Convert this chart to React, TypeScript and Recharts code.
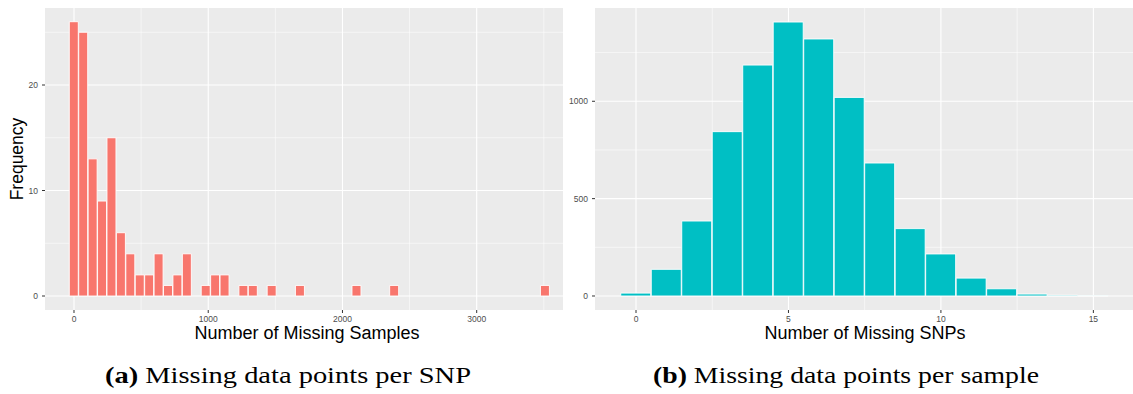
import React from 'react';
import { BarChart, Bar, XAxis, YAxis, CartesianGrid } from 'recharts';

// Panel (a): missing data points per SNP
const snpBinCenters = [
  0, 70.2, 140.4, 210.6, 280.8, 351, 421.2, 491.4, 561.6, 631.8, 702, 772.2, 842.4,
  912.6, 982.8, 1053, 1123.2, 1193.4, 1263.6, 1333.8, 1404, 1474.2, 1544.4, 1614.6,
  1684.8, 1755, 1825.2, 1895.4, 1965.6, 2035.8, 2106, 2176.2, 2246.4, 2316.6, 2386.8,
  2457, 2527.2, 2597.4, 2667.6, 2737.8, 2808, 2878.2, 2948.4, 3018.6, 3088.8, 3159,
  3229.2, 3299.4, 3369.6, 3439.8, 3510,
];
const snpCounts = [
  26, 25, 13, 9, 15, 6, 4, 2, 2, 4, 1, 2, 4, 0, 1, 2, 2, 0, 1, 1, 0, 1, 0, 0, 1,
  0, 0, 0, 0, 0, 1, 0, 0, 0, 1, 0, 0, 0, 0, 0, 0, 0, 0, 0, 0, 0, 0, 0, 0, 0, 1,
];
const snpXTicks = [0, 1000, 2000, 3000];
const snpXMinor = [500, 1500, 2500, 3500];
const snpYTicks = [0, 10, 20];
const snpYMinor = [5, 15, 25];

// Panel (b): missing data points per sample
const sampleBinCenters = [0, 1, 2, 3, 4, 5, 6, 7, 8, 9, 10, 11, 12, 13, 14, 15];
const sampleCounts = [15, 137, 385, 844, 1186, 1407, 1320, 1020, 683, 346, 216, 92, 37, 10, 4, 1];
const sampleXTicks = [0, 5, 10, 15];
const sampleXMinor = [2.5, 7.5, 12.5];
const sampleYTicks = [0, 500, 1000];
const sampleYMinor = [250, 750, 1250];

const snpData = snpBinCenters.map((x, i) => ({ x, count: snpCounts[i] }));
const sampleData = sampleBinCenters.map((x, i) => ({ x, count: sampleCounts[i] }));

const SANS = '"Liberation Sans", Arial, Helvetica, sans-serif';
const SERIF = '"Liberation Serif", "Times New Roman", serif';
const tickStyle = { fill: '#4D4D4D', fontSize: 8.5, fontFamily: SANS };
const tickLineStyle = { stroke: '#333333', strokeWidth: 1 };

export default function App() {
  return (
    <div style={{ position: 'absolute', left: 0, top: 0, width: 1133, height: 394, background: '#fff' }}>
      <div style={{ position: 'absolute', left: 0, top: 0 }}>
        <BarChart
          width={566}
          height={350}
          data={snpData}
          margin={{ top: 8, right: 3, bottom: 0, left: 0 }}
          barCategoryGap={0}
        >
          <CartesianGrid
            fill="#EBEBEB"
            fillOpacity={1}
            stroke="#FFFFFF"
            strokeWidth={1.1}
            horizontalValues={snpYTicks}
            verticalValues={snpXTicks}
          />
          <CartesianGrid
            stroke="#FFFFFF"
            strokeWidth={0.55}
            horizontalValues={snpYMinor}
            verticalValues={snpXMinor}
          />
          <XAxis
            dataKey="x"
            type="number"
            domain={[-216, 3643]}
            allowDataOverflow
            ticks={snpXTicks}
            height={40}
            axisLine={false}
            tickLine={tickLineStyle}
            tickSize={3}
            tickMargin={3}
            tick={tickStyle}
            interval={0}
          />
          <YAxis
            type="number"
            domain={[-1.327, 27.3]}
            allowDataOverflow
            ticks={snpYTicks}
            width={45}
            axisLine={false}
            tickLine={tickLineStyle}
            tickSize={3}
            tickMargin={4}
            tick={tickStyle}
            interval={0}
          />
          <Bar dataKey="count" fill="#F8766D" stroke="#FFFFFF" strokeWidth={0.9} isAnimationActive={false} />
        </BarChart>
      </div>
      <div style={{ position: 'absolute', left: 566, top: 0 }}>
        <BarChart
          width={567}
          height={350}
          data={sampleData}
          margin={{ top: 8, right: 0, bottom: 0, left: 0 }}
          barCategoryGap={0}
        >
          <CartesianGrid
            fill="#EBEBEB"
            fillOpacity={1}
            stroke="#FFFFFF"
            strokeWidth={1.1}
            horizontalValues={sampleYTicks}
            verticalValues={sampleXTicks}
          />
          <CartesianGrid
            stroke="#FFFFFF"
            strokeWidth={0.55}
            horizontalValues={sampleYMinor}
            verticalValues={sampleXMinor}
          />
          <XAxis
            dataKey="x"
            type="number"
            domain={[-1.345, 16.3]}
            allowDataOverflow
            ticks={sampleXTicks}
            height={40}
            axisLine={false}
            tickLine={tickLineStyle}
            tickSize={3}
            tickMargin={3}
            tick={tickStyle}
            interval={0}
          />
          <YAxis
            type="number"
            domain={[-71.9, 1479]}
            allowDataOverflow
            ticks={sampleYTicks}
            width={29}
            axisLine={false}
            tickLine={tickLineStyle}
            tickSize={3}
            tickMargin={4}
            tick={tickStyle}
            interval={0}
          />
          <Bar dataKey="count" fill="#00BFC4" stroke="#FFFFFF" strokeWidth={0.9} isAnimationActive={false} />
        </BarChart>
      </div>
      <svg
        width={1133}
        height={394}
        style={{ position: 'absolute', left: 0, top: 0, pointerEvents: 'none' }}
      >
        <text
          x={17}
          y={159}
          transform="rotate(-90 17 159)"
          textAnchor="middle"
          dominantBaseline="central"
          fontFamily={SANS}
          fontSize={17.5}
          fill="#000"
        >
          Frequency
        </text>
        <text x={307} y={339} textAnchor="middle" fontFamily={SANS} fontSize={18} fill="#000">
          Number of Missing Samples
        </text>
        <text x={865} y={339} textAnchor="middle" fontFamily={SANS} fontSize={18} fill="#000">
          Number of Missing SNPs
        </text>
        <text x={105} y={383} fontFamily={SERIF} fontSize={23} fill="#000" textLength={366} lengthAdjust="spacingAndGlyphs">
          <tspan fontWeight="bold">(a)</tspan> Missing data points per SNP
        </text>
        <text x={653} y={383} fontFamily={SERIF} fontSize={23} fill="#000" textLength={386} lengthAdjust="spacingAndGlyphs">
          <tspan fontWeight="bold">(b)</tspan> Missing data points per sample
        </text>
      </svg>
    </div>
  );
}
